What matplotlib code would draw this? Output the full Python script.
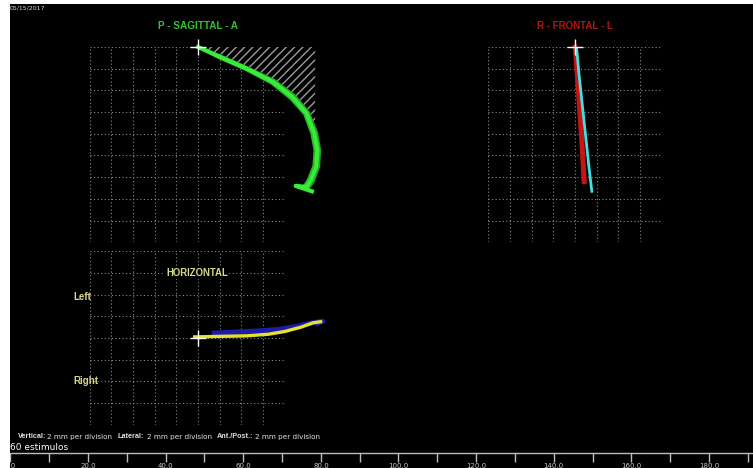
import numpy as np
import matplotlib
matplotlib.use("Agg")
import matplotlib.pyplot as plt
from matplotlib.patches import Rectangle

W, H = 753, 468
S = 10.85          # px per mm on screen (2 mm per division)

# sagittal view, mm (x = ant/post, y = vertical), origin at the start cross
sag_x = [0.0, 2.0, 4.5, 6.9, 8.7, 10.0, 10.7, 11.0, 10.9, 10.4, 10.0, 9.0, 10.5]
sag_y = [0.0, -0.9, -2.0, -3.2, -4.6, -6.1, -7.9, -9.5, -11.0, -12.3, -12.9, -12.8, -13.3]
sag_out_x = [0.0, 2.1, 4.6, 7.05, 8.9, 10.2, 10.95, 11.25, 11.15, 10.65, 10.2]
sag_out_y = [0.0, -0.8, -1.9, -3.05, -4.45, -6.0, -7.85, -9.5, -11.05, -12.4, -13.05]
sag_in_x = [0.0, 1.9, 4.4, 6.75, 8.5, 9.8, 10.45, 10.75, 10.65, 10.15, 9.8]
sag_in_y = [0.0, -1.0, -2.1, -3.35, -4.75, -6.2, -7.95, -9.5, -10.95, -12.2, -12.75]
hatch_x = [0.0, 10.8, 10.8, 10.3, 9.0, 7.15, 4.7, 2.2, 0.0]
hatch_y = [0.0, 0.0, -7.3, -6.0, -4.45, -3.0, -1.85, -0.75, 0.0]

# frontal view, mm (x = lateral, y = vertical)
red_x = [0.0, 0.05, 0.25, 0.45, 0.65, 0.85]
red_y = [0.0, -0.3, -3.0, -6.0, -9.0, -12.4]
cyan_x = [0.15, 0.4, 0.7, 1.0, 1.28, 1.55]
cyan_y = [-0.2, -2.8, -5.6, -8.4, -11.0, -13.3]

# horizontal view, mm (x = ant/post, y = lateral, Left up)
yellow_x = [-0.3, 2.0, 4.5, 6.5, 8.0, 9.5, 10.6, 11.3]
yellow_y = [0.1, 0.15, 0.2, 0.35, 0.6, 1.0, 1.4, 1.5]
blue_x = [1.5, 3.5, 5.5, 7.5, 9.0, 10.3, 11.5, 11.0]
blue_y = [0.45, 0.55, 0.65, 0.8, 1.05, 1.35, 1.55, 1.35]

ruler_major = np.arange(0, 200, 20)
ruler_minor = np.arange(10, 200, 20)

title_font = ['Liberation Sans', 'DejaVu Sans']


def fx(px):
    return px / W


def fy(py):
    return 1 - py / H


def panel(ox, oy, xlim, ylim):
    left = ox + xlim[0] * S
    right = ox + xlim[1] * S
    top = oy - ylim[1] * S
    bottom = oy - ylim[0] * S
    ax = fig.add_axes([fx(left), fy(bottom), (right - left) / W, (bottom - top) / H])
    ax.set_xlim(xlim)
    ax.set_ylim(ylim)
    ax.set_facecolor('none')
    ax.set_xticks(np.arange(xlim[0], xlim[1] + 0.1, 2))
    ax.set_yticks(np.arange(ylim[0], ylim[1] + 0.1, 2))
    ax.tick_params(length=0, labelbottom=False, labelleft=False)
    for s in ax.spines.values():
        s.set_visible(False)
    ax.grid(True, color='#8a8a8a', ls=(0, (1, 2.2)), lw=0.8)
    ax.set_axisbelow(True)
    return ax


fig = plt.figure(figsize=(W / 100, H / 100), dpi=100, facecolor='white')
fig.add_artist(Rectangle((0, 0), 1, 1, transform=fig.transFigure,
                         facecolor='black', edgecolor='none', zorder=-5))

# sagittal
ax1 = panel(198, 47, (-10, 8), (-18, 0))
ax1.fill(hatch_x, hatch_y, facecolor='black', edgecolor='#9a9a9a', hatch='////',
         lw=0, clip_on=False, zorder=2)
ax1.plot(sag_out_x, sag_out_y, color='#22a822', lw=1.6, clip_on=False, zorder=3)
ax1.plot(sag_in_x, sag_in_y, color='#28b828', lw=1.6, clip_on=False, zorder=3)
ax1.plot(sag_x, sag_y, color='#38ec38', lw=3, clip_on=False, zorder=4)
ax1.plot(0, 0, '+', color='white', ms=11, mew=1, clip_on=False, zorder=6)

# frontal
ax2 = panel(575, 47, (-8, 8), (-18, 0))
ax2.plot(red_x, red_y, color='#c81414', lw=3.6, clip_on=False, zorder=3)
ax2.plot(cyan_x, cyan_y, color='#3ee0e6', lw=2.0, clip_on=False, zorder=4)
ax2.plot(0, 0, '+', color='white', ms=11, mew=1, clip_on=False, zorder=6)

# horizontal
ax3 = panel(198, 338, (-10, 8), (-8, 8))
ax3.plot(blue_x, blue_y, color='#1c1ca8', lw=3.6, clip_on=False, zorder=3)
ax3.plot(yellow_x, yellow_y, color='#e6e032', lw=2.4, clip_on=False, zorder=4)
ax3.plot(0, 0, '+', color='white', ms=11, mew=1, clip_on=False, zorder=6)

# bottom ruler
axr = fig.add_axes([fx(10.4), fy(453), (W - 10.4) / W, 1 / H])
axr.set_facecolor('none')
axr.set_xlim(0, (W - 10.4) / 3.881)
axr.set_yticks([])
for k in ['top', 'left', 'right']:
    axr.spines[k].set_visible(False)
axr.spines['bottom'].set_color('#bdbdbd')
axr.spines['bottom'].set_linewidth(1)
axr.set_xticks(ruler_major)
axr.set_xticklabels(['%.1f' % v for v in ruler_major])
axr.set_xticks(ruler_minor, minor=True)
axr.tick_params(axis='x', which='both', direction='out', length=6.5, width=1,
                color='#bdbdbd', labelsize=5, labelcolor='#c8c8c8', pad=1)

# texts
fig.text(fx(10), fy(8), '05/15/2017', fontsize=4.5, color='#d8d8d8', va='center')
fig.text(fx(198), fy(26), 'P - SAGITTAL - A', fontsize=7.2, fontweight='bold',
         color='#2fc42f', ha='center', va='center', family=title_font)
fig.text(fx(575), fy(26), 'R - FRONTAL - L', fontsize=7.0, fontweight='bold',
         color='#b01616', ha='center', va='center', family=title_font)
fig.text(fx(197), fy(273), 'HORIZONTAL', fontsize=6.9, fontweight='bold',
         color='#d8d88a', ha='center', va='center', family=title_font,
         bbox=dict(facecolor='black', edgecolor='none', pad=1))
fig.text(fx(73), fy(297), 'Left', fontsize=7, fontweight='bold',
         color='#d8d88a', va='center', family=title_font)
fig.text(fx(73), fy(381), 'Right', fontsize=7, fontweight='bold',
         color='#d8d88a', va='center', family=title_font)

legend_parts = [(18, 'Vertical:', 'bold', title_font), (47, '2 mm per division', 'normal', 'DejaVu Sans'),
                (118, 'Lateral:', 'bold', title_font), (147, '2 mm per division', 'normal', 'DejaVu Sans'),
                (217, 'Ant./Post.:', 'bold', title_font), (255, '2 mm per division', 'normal', 'DejaVu Sans')]
for x, s, w, fam in legend_parts:
    fig.text(fx(x), fy(437), s, fontsize=5.2, fontweight=w, color='#e0e0e0',
             va='center', family=fam)
fig.text(fx(10), fy(448), '60 estimulos', fontsize=6.5, color='white', va='center')

# screenshot border
fig.add_artist(Rectangle((0, 0), fx(10), 1, transform=fig.transFigure,
                         facecolor='white', edgecolor='none', zorder=10))
fig.add_artist(Rectangle((0, fy(4)), 1, 4 / H, transform=fig.transFigure,
                         facecolor='white', edgecolor='none', zorder=10))

fig.savefig('out.png', dpi=100, facecolor=fig.get_facecolor())
